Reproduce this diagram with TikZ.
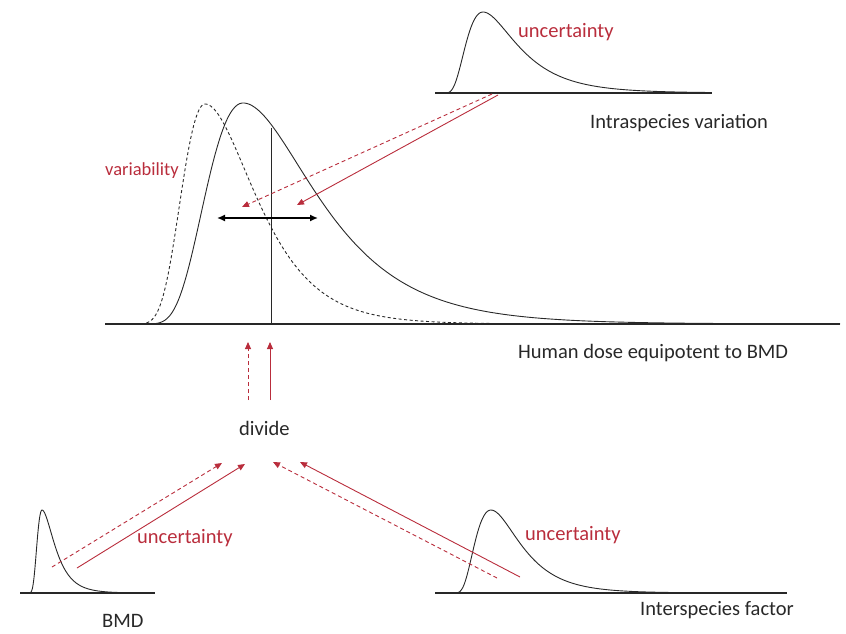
\documentclass[tikz,border=0pt]{standalone}
\usepackage{fontspec}
\setmainfont{Carlito}
\usetikzlibrary{arrows.meta}
\definecolor{redc}{RGB}{185,45,60}
\definecolor{ink}{RGB}{40,40,40}
\tikzset{
  declare function={lg(\v,\m,\a,\b)=exp(-ln(\v/\m)*ln(\v/\m)/(2*((\v<\m)*\a+(\v>=\m)*\b)));},
  curve/.style={draw=ink, line width=0.9pt},
  dcurve/.style={draw=ink, line width=0.9pt, dash pattern=on 3pt off 2.5pt},
  axis/.style={draw=ink, line width=1.1pt},
  redarrow/.style={draw=redc, line width=0.9pt, -{Triangle[length=7pt,width=6pt]}},
  reddash/.style={redarrow, dash pattern=on 4pt off 3pt},
  lbl/.style={font=\fontsize{20.5}{22}\selectfont, text=ink, inner sep=0pt, anchor=base west},
  rlbl/.style={lbl, text=redc},
}
\begin{document}
\begin{tikzpicture}[x=1pt,y=-1pt]
\useasboundingbox (0,0) rectangle (846,633);
% top distribution (intraspecies)
\draw[axis] (435,93) -- (712,93);
\draw[curve] plot[domain=448:705, samples=160, smooth] (\x, {93-81*lg(\x-440,43,0.257,0.332)});
\node[rlbl] (u1) at (518,37) {uncertainty};
\node[lbl] (intra) at (590,128) {Intraspecies variation};
% main distribution
\draw[axis] (105,324) -- (840,324);
\draw[dcurve] plot[domain=130:570, samples=240, smooth] (\x, {324-220*lg(\x-100,105,0.063,0.145)});
\draw[curve] plot[domain=145:840, samples=280, smooth] (\x, {324-221*lg(\x-120,123,0.125,0.207)});
\draw[curve] (271,128) -- (271,324);
\coordinate (dl) at (217,218);
\coordinate (dr) at (318,218);
\draw[draw=black, line width=1.5pt, {Latex[length=8pt,width=7pt]}-{Latex[length=8pt,width=7pt]}] (dl) -- (dr);
\node[rlbl, font=\fontsize{18.5}{20}\selectfont] (var) at (105,175) {variability};
\node[lbl] (human) at (518,358) {Human dose equipotent to BMD};
% arrows from top
\coordinate (ta) at (492,94);
\coordinate (tb) at (498,95);
\coordinate (ha) at (242,207);
\coordinate (hb) at (297,205);
\draw[reddash] (ta) -- (ha);
\draw[redarrow] (tb) -- (hb);
% divide
\node[lbl] (divide) at (239,435) {divide};
\coordinate (va0) at (248,400);
\coordinate (va1) at (248,342);
\coordinate (vb0) at (270,400);
\coordinate (vb1) at (270,342);
\draw[reddash] (va0) -- (va1);
\draw[redarrow] (vb0) -- (vb1);
% BMD distribution
\draw[axis] (20,593) -- (155,593);
\draw[curve] plot[domain=27:118, samples=120, smooth] (\x, {593-83*lg(\x-25,17,0.12,0.287)});
\node[rlbl] (u2) at (137,543) {uncertainty};
\node[lbl] (bmd) at (102,627) {BMD};
\coordinate (la0) at (52,567);
\coordinate (la1) at (222,463);
\coordinate (lb0) at (77,568);
\coordinate (lb1) at (245,464);
\draw[reddash] (la0) -- (la1);
\draw[redarrow] (lb0) -- (lb1);
% Interspecies distribution
\draw[axis] (435,593) -- (787,593);
\draw[curve] plot[domain=458:683, samples=140, smooth] (\x, {593-83*lg(\x-450,41,0.25,0.28)});
\node[rlbl] (u3) at (525,540) {uncertainty};
\node[lbl] (inter) at (640,615) {Interspecies factor};
\coordinate (ra0) at (497,578);
\coordinate (ra1) at (273,462);
\coordinate (rb0) at (520,577);
\coordinate (rb1) at (300,462);
\draw[reddash] (ra0) -- (ra1);
\draw[redarrow] (rb0) -- (rb1);
\end{tikzpicture}
\end{document}
